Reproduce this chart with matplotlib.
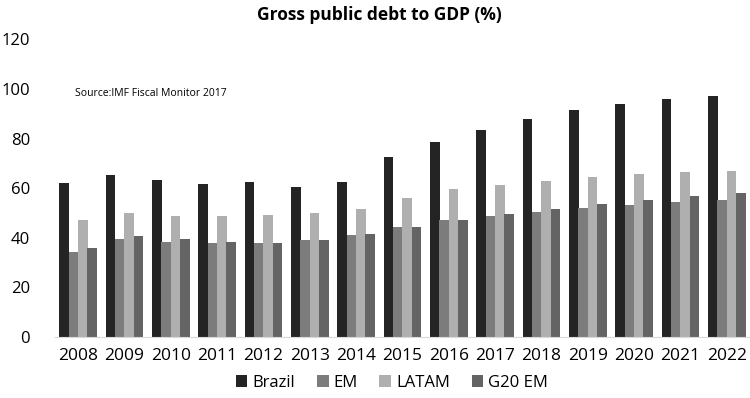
import matplotlib.pyplot as plt
import numpy as np

plt.rcParams['font.family'] = ['Open Sans', 'DejaVu Sans']

years = ['2008', '2009', '2010', '2011', '2012', '2013', '2014', '2015',
         '2016', '2017', '2018', '2019', '2020', '2021', '2022']
brazil = [62.1, 65.2, 63.4, 61.7, 62.7, 60.5, 62.7, 72.8, 78.6, 83.6, 88.1, 91.7, 93.9, 96.0, 97.3]
em = [34.1, 39.5, 38.5, 37.9, 37.9, 39.1, 41.3, 44.4, 47.2, 48.9, 50.5, 52.0, 53.3, 54.4, 55.4]
latam = [47.0, 50.0, 49.0, 49.0, 49.2, 50.0, 51.7, 56.0, 59.7, 61.4, 63.1, 64.6, 65.6, 66.4, 67.1]
g20em = [36.0, 40.8, 39.5, 38.4, 37.9, 39.1, 41.7, 44.4, 47.3, 49.7, 51.7, 53.8, 55.4, 56.9, 58.1]
series = ['Brazil', 'EM', 'LATAM', 'G20 EM']
colors = ['#242424', '#7c7c7c', '#afafaf', '#646464']

fig = plt.figure(figsize=(7.5, 3.98), dpi=100)
ax = fig.add_axes([55 / 750, 1 - 337 / 398, 695 / 750, (337 - 39.5) / 398])

x = np.arange(len(years))
w = 0.2
for i, (vals, name) in enumerate(zip([brazil, em, latam, g20em], series)):
    ax.bar(x + (i - 1.5) * w, vals, width=w * 1.05, color=colors[i], label=name)

ax.set_xlim(-0.5, len(years) - 0.5)
ax.set_ylim(0, 120)
ax.set_yticks(range(0, 121, 20))
ax.set_xticks(x)
ax.set_xticklabels(years)
ax.tick_params(axis='y', length=0, labelsize=12, pad=18)
ax.tick_params(axis='x', length=0, labelsize=12.5, pad=8)
for s in ['top', 'right', 'left']:
    ax.spines[s].set_visible(False)
ax.spines['bottom'].set_color('#d9d9d9')

fig.text(379 / 750, 0.962, 'Gross public debt to GDP (%)', ha='center', va='center',
         fontsize=12.5, fontweight='bold')
fig.text(75 / 750, 1 - 94 / 398, 'Source:IMF Fiscal Monitor 2017', ha='left', va='center',
         fontsize=7.5)

fig.legend(loc='center', bbox_to_anchor=(392 / 750, 1 - 383 / 398), ncol=4, frameon=False,
           fontsize=12, handlelength=0.7, handleheight=0.7, handletextpad=0.3,
           columnspacing=1.3)

plt.savefig('out.png', dpi=100)
